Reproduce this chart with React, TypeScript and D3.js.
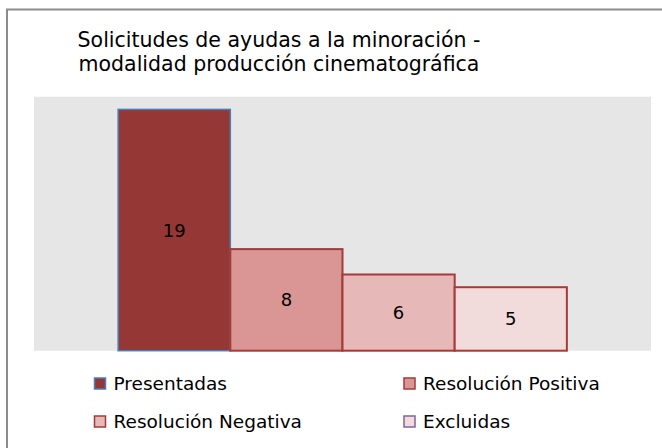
import React from 'react';
import * as d3 from 'd3';

const titleLines = ['Solicitudes de ayudas a la minoración -', 'modalidad producción cinematográfica'];
const series = ['Presentadas', 'Resolución Positiva', 'Resolución Negativa', 'Excluidas'];
const values = [19, 8, 6, 5];
const fills = ['#953735', '#D99694', '#E6B9B8', '#F2DCDB'];
const strokes = ['#4A7EBB', '#A33B39', '#A33B39', '#A33B39'];
const legendStrokes = ['#4A7EBB', '#A33B39', '#A33B39', '#7F63A1'];
const yMax = 20;

const W = 662;
const H = 448;
const plot = { left: 34, right: 651, top: 96.7, bottom: 350.7 };
const FONT = '"DejaVu Sans", Verdana, sans-serif';

export default function App() {
  const x = d3.scaleBand<string>().domain(series).range([plot.left, plot.right]).paddingInner(0).paddingOuter(0.75);
  const y = d3.scaleLinear().domain([0, yMax]).range([plot.bottom, plot.top]);
  const legendX = d3.scaleOrdinal<number, number>().domain([0, 1]).range([94.5, 404]);
  const legendY = d3.scaleOrdinal<number, number>().domain([0, 1]).range([390, 428]);

  return (
    <svg width={W} height={H} style={{ position: 'absolute', left: 0, top: 0, background: '#fff' }} fontFamily={FONT}>
      <rect x={7} y={9.5} width={W} height={H} fill="#fff" stroke="#8C8C8C" strokeWidth={2} />
      {titleLines.map((t, i) => (
        <text key={i} x={279} y={47 + i * 24} textAnchor="middle" fontSize={20.5} fill="#000">{t}</text>
      ))}
      <rect x={plot.left} y={plot.top} width={plot.right - plot.left} height={plot.bottom - plot.top} fill="#E6E6E6" />
      {series.map((s, i) => (
        <g key={s}>
          <rect x={x(s)} y={y(values[i])} width={x.bandwidth()} height={y(0) - y(values[i])}
            fill={fills[i]} stroke={strokes[i]} strokeWidth={i === 0 ? 1.5 : 2} />
        </g>
      ))}
      {series.map((s, i) => (
        <text key={s + 'l'} x={(x(s) as number) + x.bandwidth() / 2} y={(y(values[i]) + y(0)) / 2}
          textAnchor="middle" dominantBaseline="central" fontSize={18} fill="#000">{values[i]}</text>
      ))}
      {series.map((s, i) => {
        const col = i % 2;
        const row = Math.floor(i / 2);
        const lx = legendX(col);
        const ly = legendY(row);
        return (
          <g key={s + 'g'}>
            <rect x={lx} y={ly - 12} width={11} height={11} fill={fills[i]} stroke={legendStrokes[i]} strokeWidth={1.5} />
            <text x={lx + 19} y={ly} fontSize={18.5} fill="#000">{s}</text>
          </g>
        );
      })}
    </svg>
  );
}
